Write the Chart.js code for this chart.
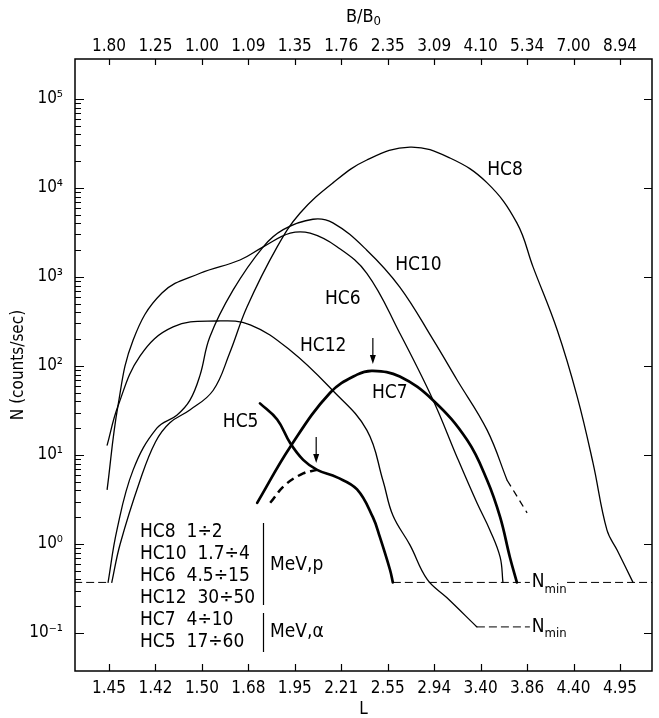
<!DOCTYPE html>
<html>
<head>
<meta charset="utf-8">
<script src="https://cdn.jsdelivr.net/npm/chart.js@4.4.0/dist/chart.umd.min.js"></script>
<style>
  html, body { margin: 0; padding: 0; background: #fff; }
</style>
</head>
<body>
<canvas id="chart" width="659" height="718"></canvas>
<script>
// tick labels: L along the bottom, B/B0 along the top, both at index 0..11
const lTicks = ['1.45', '1.42', '1.50', '1.68', '1.95', '2.21', '2.55', '2.94', '3.40', '3.86', '4.40', '4.95'];
const bTicks = ['1.80', '1.25', '1.00', '1.09', '1.35', '1.76', '2.35', '3.09', '4.10', '5.34', '7.00', '8.94'];
const decades = [-1, 0, 1, 2, 3, 4, 5];

// counting rates N (counts/sec) against tick index
const hc8X = [0.06, 0.24, 0.67, 1.0, 1.31, 1.74, 2.24, 2.6, 2.97, 3.62, 4.11, 4.82, 5.55, 6.48, 7.34, 8.14, 8.78, 9.13, 9.65, 10.08, 10.42, 10.72, 10.94, 11.28];
const hc8N = [0.37, 1.0, 5.2, 14, 23, 32, 53, 141, 460, 2180, 5200, 11400, 20600, 28800, 21700, 11400, 4050, 1290, 252, 45, 8.1, 1.43, 0.85, 0.37];

const hc10X = [-0.02, 0.17, 0.52, 1.03, 1.46, 1.74, 1.96, 2.17, 2.67, 3.32, 3.75, 4.39, 4.82, 5.55, 6.26, 6.98, 7.49, 8.14, 8.57];
const hc10N = [0.37, 1.43, 6.8, 20, 28, 41, 79, 212, 710, 2180, 3400, 4450, 4050, 2000, 770, 196, 70, 19, 5.2];
const hc10TailX = [8.57, 9.0];
const hc10TailN = [5.2, 2.24];

const hc6X = [-0.04, 0.19, 0.52, 1.14, 1.96, 2.82, 3.32, 3.9, 4.33, 4.9, 5.55, 6.26, 6.98, 7.49, 7.92, 8.2, 8.42, 8.48];
const hc6N = [4.1, 35, 196, 660, 1100, 1550, 2180, 3100, 3100, 2200, 1100, 233, 41, 9.5, 2.9, 1.43, 0.71, 0.37];

const hc12X = [-0.04, 0.19, 0.67, 1.38, 2.33, 3.04, 3.9, 4.8, 5.55, 5.9, 6.11, 6.48, 6.85, 7.27, 7.92];
const hc12N = [12.9, 35, 130, 275, 320, 290, 150, 54, 19, 5.1, 2.1, 0.97, 0.40, 0.25, 0.117];

const hc7X = [3.19, 3.9, 4.76, 5.34, 5.68, 6.26, 6.98, 7.71, 8.14, 8.42, 8.63, 8.78];
const hc7N = [2.9, 12.3, 50, 80, 88, 76, 41, 14.7, 5.2, 2.0, 0.71, 0.37];

const hc5X = [3.25, 3.62, 3.9, 4.18, 4.48, 4.91, 5.34, 5.68, 5.83, 6.05, 6.11];
const hc5N = [38, 25, 13.6, 8.8, 6.8, 5.6, 4.1, 2.0, 1.2, 0.51, 0.37];
const hc5BranchX = [3.47, 3.79, 4.18, 4.48];
const hc5BranchN = [2.9, 4.6, 6.2, 6.8];

// detection thresholds
const nMinHigh = 0.37;
const nMinLow = 0.117;
const nMinHighRuns = [[-0.75, -0.02], [6.11, 9.06], [9.86, 11.75]];
const nMinLowRuns = [[7.92, 9.06]];

// peak markers (index, N at the peak)
const arrows = [[5.68, 88], [4.46, 6.8]];

const FAMILY = '"DejaVu Sans Condensed", "DejaVu Sans", sans-serif';
const xMin = -0.732, xMax = 11.689;
const yMin = 0.0374, yMax = 281000;

function pts(xs, ns) {
  return xs.map((x, i) => ({ x: x, y: ns[i] }));
}

function curve(xs, ns, width, dash) {
  return {
    data: pts(xs, ns),
    borderColor: '#000',
    borderWidth: width,
    borderDash: dash || [],
    pointRadius: 0,
    fill: false,
    tension: 0.4,
    borderCapStyle: dash ? 'butt' : 'round',
    borderJoinStyle: 'round'
  };
}

function threshold(runs, level) {
  return runs.map(function (r) {
    return {
      data: [{ x: r[0], y: level }, { x: r[1], y: level }],
      borderColor: '#000',
      borderWidth: 1,
      borderDash: [8, 4],
      pointRadius: 0,
      fill: false,
      tension: 0
    };
  });
}

const sup = { '-': '\u207B', '0': '\u2070', '1': '\u00B9', '2': '\u00B2', '3': '\u00B3', '4': '\u2074', '5': '\u2075' };
function power(v) {
  const e = Math.round(Math.log10(v)).toString();
  return '10' + e.split('').map(c => sup[c]).join('');
}

const curveLabels = [
  ['HC8', 8.14, 15900],
  ['HC10', 6.16, 1350],
  ['HC6', 4.65, 565],
  ['HC12', 4.11, 166],
  ['HC7', 5.66, 50],
  ['HC5', 2.45, 23.5]
];

const legendRows = ['HC8  1\u00F72', 'HC10  1.7\u00F74', 'HC6  4.5\u00F715', 'HC12  30\u00F750', 'HC7  4\u00F710', 'HC5  17\u00F760'];

// text with a lowered small suffix, e.g. B0 or Nmin
function subText(ctx, main, sub, px, py, size, subSize, drop, align) {
  ctx.font = size + 'px ' + FAMILY;
  const w1 = ctx.measureText(main).width;
  ctx.font = subSize + 'px ' + FAMILY;
  const w2 = ctx.measureText(sub).width;
  const start = align === 'center' ? px - (w1 + w2) / 2 : px;
  ctx.textAlign = 'left';
  ctx.font = size + 'px ' + FAMILY;
  ctx.fillText(main, start, py);
  ctx.font = subSize + 'px ' + FAMILY;
  ctx.fillText(sub, start + w1, py + drop);
}

// frame, inward ticks and the text drawn inside the plot
const decorations = {
  id: 'decorations',
  afterDatasetsDraw(chart) {
    const ctx = chart.ctx;
    const a = chart.chartArea;
    const x = chart.scales.x;
    const y = chart.scales.y;
    ctx.save();
    ctx.strokeStyle = '#000';
    ctx.fillStyle = '#000';

    ctx.lineWidth = 1.5;
    ctx.strokeRect(a.left, a.top, a.right - a.left, a.bottom - a.top);

    ctx.lineWidth = 1.2;
    ctx.beginPath();
    lTicks.forEach(function (t, i) {
      const px = Math.round(x.getPixelForValue(i)) + 0.5;
      ctx.moveTo(px, a.bottom); ctx.lineTo(px, a.bottom - 7);
      ctx.moveTo(px, a.top); ctx.lineTo(px, a.top + 6);
    });
    decades.forEach(function (e) {
      const py = Math.round(y.getPixelForValue(Math.pow(10, e))) + 0.5;
      ctx.moveTo(a.left, py); ctx.lineTo(a.left + 9, py);
      ctx.moveTo(a.right, py); ctx.lineTo(a.right - 8, py);
      if (e < 5) {
        for (let m = 2; m < 10; m++) {
          const pm = Math.round(y.getPixelForValue(m * Math.pow(10, e))) + 0.5;
          ctx.moveTo(a.left, pm); ctx.lineTo(a.left + 6, pm);
        }
      }
    });
    ctx.stroke();

    // arrows over the peaks of HC7 and HC5
    arrows.forEach(function (p) {
      const px = x.getPixelForValue(p[0]);
      const tip = y.getPixelForValue(p[1]) - 7;
      ctx.lineWidth = 1.2;
      ctx.beginPath();
      ctx.moveTo(px, tip - 26); ctx.lineTo(px, tip - 6);
      ctx.stroke();
      ctx.beginPath();
      ctx.moveTo(px, tip); ctx.lineTo(px - 3, tip - 9); ctx.lineTo(px + 3, tip - 9);
      ctx.closePath();
      ctx.fill();
    });

    ctx.font = '19px ' + FAMILY;
    ctx.textBaseline = 'middle';
    ctx.textAlign = 'left';
    curveLabels.forEach(function (l) {
      ctx.fillText(l[0], x.getPixelForValue(l[1]), y.getPixelForValue(l[2]));
    });

    // energy ranges of the channels
    const lx = a.left + 65;
    legendRows.forEach(function (row, i) {
      ctx.fillText(row, lx, a.bottom - 139 + i * 22);
    });
    ctx.lineWidth = 1.2;
    ctx.beginPath();
    ctx.moveTo(a.left + 188.5, a.bottom - 148); ctx.lineTo(a.left + 188.5, a.bottom - 66);
    ctx.moveTo(a.left + 188.5, a.bottom - 58); ctx.lineTo(a.left + 188.5, a.bottom - 19);
    ctx.stroke();
    ctx.fillText('MeV,p', a.left + 195, a.bottom - 106);
    ctx.fillText('MeV,\u03B1', a.left + 195, a.bottom - 39);

    // N_min marks at the threshold lines
    [nMinHigh, nMinLow].forEach(function (level) {
      const px = x.getPixelForValue(9.1);
      const py = y.getPixelForValue(level);
      ctx.fillStyle = '#fff';
      ctx.fillRect(px - 1, py - 2, 36, 4);
      ctx.fillStyle = '#000';
      subText(ctx, 'N', 'min', px, py, 19, 13, 7, 'left');
    });

    // title of the top axis
    subText(ctx, 'B/B', '0', (a.left + a.right) / 2, 17, 18, 13, 5, 'center');
    ctx.restore();
  }
};

const tickFont = { family: FAMILY, size: 17 };

new Chart(document.getElementById('chart'), {
  type: 'line',
  data: {
    datasets: [
      curve(hc8X, hc8N, 1.3),
      curve(hc10X, hc10N, 1.3),
      curve(hc10TailX, hc10TailN, 1.3, [7, 5]),
      curve(hc6X, hc6N, 1.3),
      curve(hc12X, hc12N, 1.3),
      curve(hc7X, hc7N, 2.7),
      curve(hc5X, hc5N, 2.7),
      curve(hc5BranchX, hc5BranchN, 2.5, [8, 5])
    ].concat(threshold(nMinHighRuns, nMinHigh), threshold(nMinLowRuns, nMinLow))
  },
  options: {
    responsive: false,
    animation: false,
    devicePixelRatio: 1,
    layout: { padding: { left: 0, right: 7, top: 0, bottom: 0 } },
    plugins: { legend: { display: false }, tooltip: { enabled: false } },
    scales: {
      x: {
        type: 'linear',
        position: 'bottom',
        min: xMin,
        max: xMax,
        grid: { display: false, drawTicks: false },
        border: { display: false },
        afterBuildTicks: function (s) { s.ticks = lTicks.map((t, i) => ({ value: i })); },
        afterFit: function (s) { s.height = 47; },
        ticks: {
          autoSkip: false, maxRotation: 0, minRotation: 0, padding: 7,
          color: '#000', font: tickFont,
          callback: v => lTicks[v]
        },
        title: { display: true, text: 'L', color: '#000', font: { family: FAMILY, size: 17, lineHeight: 1 }, padding: { top: 0, bottom: 0 } }
      },
      xTop: {
        type: 'linear',
        position: 'top',
        min: xMin,
        max: xMax,
        grid: { display: false, drawTicks: false },
        border: { display: false },
        afterBuildTicks: function (s) { s.ticks = bTicks.map((t, i) => ({ value: i })); },
        afterFit: function (s) { s.height = 59; },
        ticks: {
          autoSkip: false, maxRotation: 0, minRotation: 0, padding: 2,
          color: '#000', font: tickFont,
          callback: v => bTicks[v]
        }
      },
      y: {
        type: 'logarithmic',
        min: yMin,
        max: yMax,
        grid: { display: false, drawTicks: false },
        border: { display: false },
        afterBuildTicks: function (s) { s.ticks = decades.map(e => ({ value: Math.pow(10, e) })); },
        afterFit: function (s) { s.width = 75; },
        ticks: { padding: 12, color: '#000', font: tickFont, callback: v => power(v) },
        title: { display: true, text: 'N (counts/sec)', color: '#000', font: { family: FAMILY, size: 17 }, padding: { top: 8, bottom: 0 } }
      }
    }
  },
  plugins: [decorations]
});
</script>
</body>
</html>
